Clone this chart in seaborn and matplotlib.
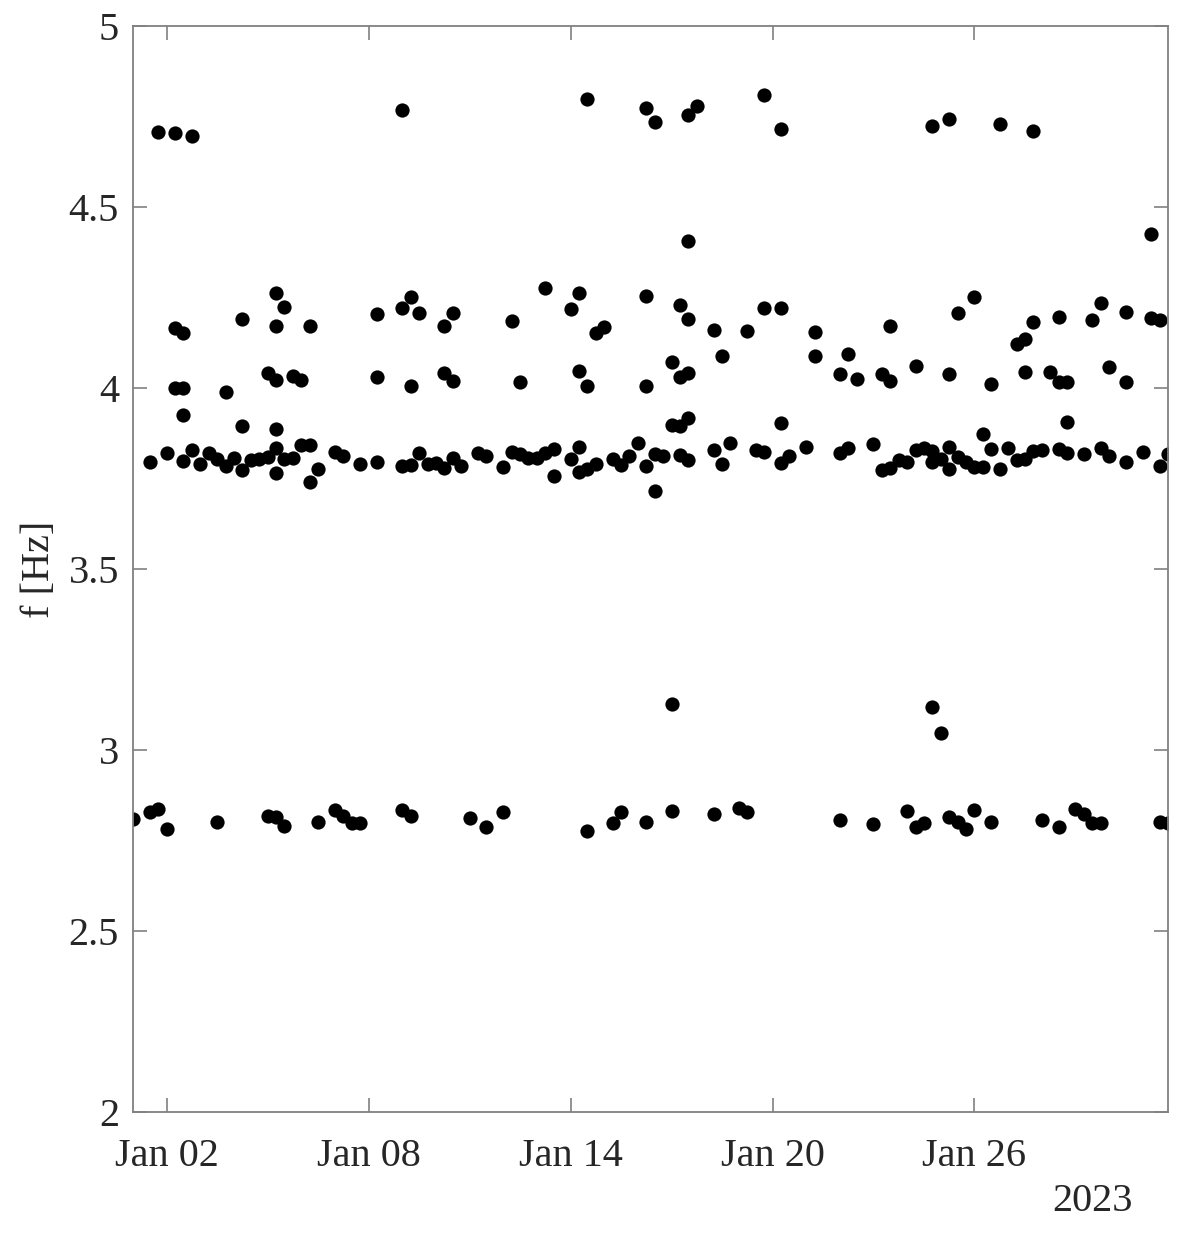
# Frequencias identificadas - Janeiro 2023

import pandas as pd
import seaborn as sns
import matplotlib.pyplot as plt
import matplotlib.dates as mdates

# horas desde 2023-01-01 00:00 e frequencia [Hz], por faixa
hours_28 = [0, 12, 18, 24, 60, 96, 102, 108, 132, 144, 150, 156, 162, 192, 198,
            240, 252, 264, 324, 342, 348, 366, 384, 414, 432, 438, 504, 528, 552,
            558, 564, 582, 588, 594, 600, 612, 648, 660, 672, 678, 684, 690, 732, 738]
freq_28 = [2.808, 2.828, 2.836, 2.783, 2.801, 2.817, 2.815, 2.790, 2.801, 2.834,
           2.817, 2.797, 2.797, 2.834, 2.817, 2.813, 2.786, 2.828, 2.776, 2.797,
           2.828, 2.801, 2.830, 2.823, 2.841, 2.828, 2.806, 2.795, 2.830, 2.787,
           2.797, 2.816, 2.800, 2.781, 2.834, 2.801, 2.806, 2.787, 2.836, 2.823,
           2.797, 2.799, 2.801, 2.799]

hours_31 = [384, 570, 576]
freq_31 = [3.126, 3.120, 3.048]

hours_38 = [12, 24, 36, 42, 48, 54, 60, 66, 72, 78, 84, 90, 96, 102, 102, 108,
            114, 120, 126, 126, 132, 144, 150, 162, 174, 192, 198, 204, 210, 216,
            222, 228, 234, 246, 252, 264, 270, 276, 282, 288, 294, 300, 300, 312,
            318, 318, 324, 330, 342, 348, 354, 360, 366, 372, 372, 378, 390, 396,
            414, 420, 426, 444, 450, 462, 468, 480, 504, 510, 528, 534, 540, 546,
            552, 558, 564, 570, 570, 576, 582, 582, 588, 594, 600, 606, 612, 618,
            624, 630, 636, 642, 648, 660, 666, 678, 690, 696, 708, 720, 732, 738,
            36, 78, 102, 384, 390, 396, 462, 606, 666]
freq_38 = [3.795, 3.821, 3.799, 3.829, 3.790, 3.820, 3.804, 3.783, 3.806, 3.773,
           3.801, 3.804, 3.809, 3.833, 3.764, 3.804, 3.806, 3.841, 3.841, 3.741,
           3.776, 3.824, 3.813, 3.790, 3.795, 3.783, 3.787, 3.820, 3.790, 3.792,
           3.778, 3.806, 3.785, 3.820, 3.813, 3.781, 3.824, 3.818, 3.806, 3.806,
           3.820, 3.831, 3.757, 3.804, 3.838, 3.767, 3.776, 3.790, 3.804, 3.787,
           3.813, 3.847, 3.783, 3.818, 3.716, 3.813, 3.815, 3.801, 3.829, 3.790,
           3.847, 3.829, 3.822, 3.792, 3.813, 3.838, 3.820, 3.835, 3.845, 3.772,
           3.778, 3.801, 3.796, 3.829, 3.833, 3.827, 3.796, 3.804, 3.838, 3.775,
           3.809, 3.795, 3.781, 3.781, 3.831, 3.775, 3.833, 3.801, 3.804, 3.827,
           3.829, 3.831, 3.820, 3.818, 3.833, 3.813, 3.795, 3.824, 3.783, 3.818,
           3.924, 3.896, 3.886, 3.898, 3.895, 3.916, 3.902, 3.873, 3.907]

hours_42 = [30, 30, 36, 36, 66, 78, 96, 102, 102, 102, 108, 114, 120, 126, 174,
            174, 192, 198, 198, 204, 222, 222, 228, 228, 270, 276, 294, 312, 318,
            318, 324, 330, 336, 366, 366, 384, 390, 390, 396, 396, 396, 414, 420,
            438, 450, 462, 486, 486, 504, 510, 516, 534, 540, 540, 558, 582, 588,
            600, 612, 630, 636, 636, 642, 654, 660, 660, 666, 684, 690, 696, 708,
            708, 726, 726, 732]
freq_42 = [4.001, 4.165, 4.001, 4.153, 3.990, 4.190, 4.042, 4.263, 4.171, 4.022,
           4.223, 4.033, 4.022, 4.171, 4.204, 4.030, 4.220, 4.252, 4.004, 4.206,
           4.172, 4.041, 4.206, 4.020, 4.185, 4.015, 4.275, 4.217, 4.263, 4.048,
           4.004, 4.153, 4.168, 4.254, 4.006, 4.073, 4.229, 4.031, 4.406, 4.191,
           4.041, 4.160, 4.089, 4.156, 4.220, 4.220, 4.154, 4.087, 4.038, 4.094,
           4.025, 4.039, 4.172, 4.020, 4.061, 4.039, 4.206, 4.250, 4.011, 4.122,
           4.134, 4.043, 4.181, 4.045, 4.195, 4.015, 4.015, 4.188, 4.234, 4.057,
           4.209, 4.017, 4.425, 4.194, 4.188]

hours_47 = [18, 30, 42, 192, 324, 366, 372, 396, 402, 450, 462, 570, 582, 618, 642]
freq_47 = [4.708, 4.704, 4.696, 4.768, 4.797, 4.773, 4.735, 4.754, 4.779, 4.809,
           4.715, 4.724, 4.743, 4.729, 4.711]

ytick_vals = [2, 2.5, 3, 3.5, 4, 4.5, 5]
ytick_labels = ["2", "2.5", "3", "3.5", "4", "4.5", "5"]
xtick_days = [2, 8, 14, 20, 26]

frames = []
for h, f in [(hours_28, freq_28), (hours_31, freq_31), (hours_38, freq_38),
             (hours_42, freq_42), (hours_47, freq_47)]:
    frames.append(pd.DataFrame({"hours": h, "f": f}))
df = pd.concat(frames, ignore_index=True)
df["time"] = pd.Timestamp("2023-01-01") + pd.to_timedelta(df["hours"], unit="h")

sns.set_style("ticks")
plt.rcParams["font.family"] = ["Liberation Serif", "DejaVu Serif"]

fig = plt.figure(figsize=(11.95, 12.34), dpi=100)
ax = fig.add_axes([0.1113, 0.0989, 0.8661, 0.8801])
sns.scatterplot(data=df, x="time", y="f", color="black", s=105, linewidth=0,
                ax=ax, legend=False)

ax.set_xlim(df["time"].min(), df["time"].max())
ax.set_ylim(2, 5)
ax.set_yticks(ytick_vals, labels=ytick_labels)
ax.xaxis.set_major_locator(mdates.DayLocator(bymonthday=xtick_days))
ax.xaxis.set_major_formatter(mdates.DateFormatter("%b %d"))

grey = "0.5"
ax.tick_params(direction="in", top=True, right=True, length=10, width=1.2,
               color=grey, labelsize=29, labelcolor="#262626")
ax.tick_params(axis="x", pad=19)
ax.tick_params(axis="y", pad=10)
for s in ax.spines.values():
    s.set_color(grey)
    s.set_linewidth(1.3)

ax.set_xlabel("")
ax.set_ylabel("f [Hz]", fontsize=29, color="#262626")
ax.yaxis.set_label_coords(-0.072, 0.5)

fig.text(0.948, 0.026, "2023", fontsize=29, color="#262626", ha="right", va="center")

plt.savefig("out.png", dpi=100)
